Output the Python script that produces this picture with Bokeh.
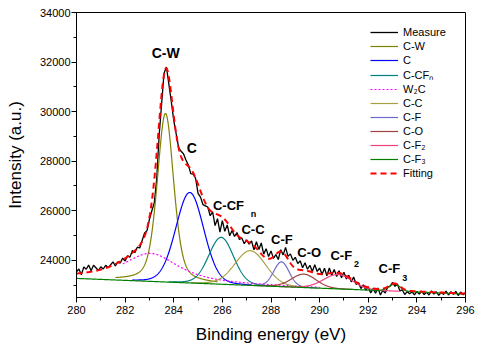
import numpy as np
from bokeh.plotting import figure
from bokeh.models import Range1d, SingleIntervalTicker, Legend, LegendItem
from bokeh.core.properties import value
from bokeh.embed import file_html
from bokeh.resources import INLINE

# ---------------- data ----------------
energy_start = 280.0
energy_step = 0.1
measured = [
    23540, 23650, 23420, 23730, 23640, 23810, 23580, 23800, 23700, 23590,
    23740, 23650, 23800, 23700, 23820, 23940, 23770, 23940, 23890, 24090,
    23970, 24180, 24130, 24400, 24310, 24530, 24500, 24800, 25100, 25200,
    25650, 26000, 26320, 27300, 29050, 30300, 31550, 31800, 31100, 30400,
    29650, 29100, 28550, 28400, 28300, 28050, 27850, 27500, 27480, 27300,
    26700, 26550, 26250, 26200, 26150, 25800, 25950, 25400, 25680, 25140,
    25600, 25170, 25430, 24990, 25200, 24960, 25120, 24840, 24900, 24670,
    24830, 24650, 24780, 24420, 24750, 24440, 24700, 24250, 24470, 24150,
    24380, 24080, 24230, 24030, 24430, 24220, 24520, 24160, 24260, 24000,
    24120, 23870, 23980, 23700, 23900, 23640, 23800, 23550, 23820, 23550,
    23690, 23430, 23680, 23380, 23690, 23400, 23630, 23350, 23580, 23300,
    23520, 23250, 23400, 23130, 23330, 23030, 23100, 22860, 23010, 22790,
    22930, 22680, 22860, 22670, 22880, 22600, 22790, 22680, 22920, 22950,
    23110, 22950, 23040, 22770, 22810, 22620, 22740, 22650, 22725, 22610,
    22740, 22640, 22750, 22620, 22715, 22600, 22770, 22640, 22730, 22590,
    22710, 22625, 22760, 22600, 22738, 22630, 22744, 22580, 22720, 22610,
    22700,
]

baseline_energy = [280.0, 296.0]
baseline_intensity = [23270, 22640]

peak_names = ["C-W", "C", "C-CFₙ", "W₂C", "C-C", "C-F", "C-O", "C-F₂", "C-F₃"]
peak_center = [283.66, 284.66, 285.95, 283.05, 287.15, 288.43, 289.35, 290.75, 293.08]
peak_height = [6800, 3650, 1890, 1130, 1400, 1000, 540, 580, 280]
peak_fwhm = [0.8, 1.35, 1.2, 2.7, 1.5, 0.75, 1.2, 1.4, 0.55]
peak_lorentz = [0.4, 0.1, 0.1, 0.8, 0.1, 0.1, 0.1, 0.1, 0.1]
peak_from = [281.6, 282.3, 283.8, 281.9, 284.7, 287.0, 287.3, 288.2, 280.0]
peak_to = [285.8, 287.2, 288.1, 290.0, 289.6, 289.9, 291.4, 293.3, 296.0]

peak_colors = ["#808000", "#0000FF", "#008080", "#FF00FF", "#A8A040",
               "#6A6ACD", "#A04040", "#F04080", "#008000"]
peak_dash = ["solid", "solid", "solid", "2 2", "solid", "solid", "solid", "solid", "solid"]

label_text = ["C-W", "C", "C-CF", "C-C", "C-F", "C-O", "C-F", "C-F"]
label_x = [283.67, 284.74, 286.25, 287.26, 288.45, 289.57, 290.89, 292.87]
label_y = [32384, 28549, 26204, 25235, 24831, 24306, 24184, 23659]
label_size = ["14px", "14px", "13px", "13px", "13px", "13px", "13px", "13px"]
sub_text = ["n", "2", "3"]
sub_x = [287.28, 291.52, 293.50]
sub_y = [25860, 23861, 23296]

# ---------------- model ----------------
def baseline(e):
    return np.interp(e, baseline_energy, baseline_intensity)

def pvoigt(e, c, h, w, eta):
    t = 4.0 * (e - c) ** 2 / w ** 2
    return h * (eta / (1.0 + t) + (1.0 - eta) * np.exp(-np.log(2.0) * t))

energy = np.round(energy_start + energy_step * np.arange(len(measured)), 3)
fine = np.linspace(280.0, 296.0, 1601)

FONT = "Liberation Sans"
p = figure(width=481, height=351, output_backend="svg", toolbar_location=None,
           x_range=Range1d(280, 296), y_range=Range1d(22500, 34000),
           min_border_left=76, min_border_right=16, min_border_top=12,
           min_border_bottom=54)
p.xgrid.visible = False
p.ygrid.visible = False
p.outline_line_color = "black"
p.outline_line_alpha = 1
p.outline_line_width = 1
p.background_fill_color = "white"

p.xaxis.ticker = SingleIntervalTicker(interval=2, num_minor_ticks=2)
p.yaxis.ticker = SingleIntervalTicker(interval=2000, num_minor_ticks=2)
for ax in (p.xaxis[0], p.yaxis[0]):
    ax.major_tick_in = 0
    ax.major_tick_out = 5
    ax.minor_tick_in = 0
    ax.minor_tick_out = 3
    ax.axis_line_color = "black"
    ax.major_tick_line_color = "black"
    ax.minor_tick_line_color = "black"
    ax.major_label_text_font = FONT
    ax.major_label_text_font_size = "11px"
    ax.major_label_text_color = "black"
    ax.axis_label_text_font = FONT
    ax.axis_label_text_font_style = "normal"
    ax.axis_label_text_font_size = "17px"
    ax.axis_label_text_color = "black"
p.xaxis.axis_label = "Binding energy (eV)"
p.yaxis.axis_label = "Intensity (a.u.)"
p.xaxis.major_label_standoff = 3
p.yaxis.major_label_standoff = 1
p.xaxis.axis_label_standoff = 8
p.yaxis.axis_label_standoff = 12

items = []
r = p.line(energy, measured, line_color="black", line_width=1.3)
items.append(LegendItem(label="Measure", renderers=[r]))

fit = baseline(fine).copy()
for i, name in enumerate(peak_names):
    comp = pvoigt(fine, peak_center[i], peak_height[i], peak_fwhm[i], peak_lorentz[i])
    fit += comp
    m = (fine >= peak_from[i]) & (fine <= peak_to[i])
    r = p.line(fine[m], (baseline(fine) + comp)[m], line_color=peak_colors[i],
               line_width=1.2, line_dash=peak_dash[i])
    items.append(LegendItem(label=name, renderers=[r]))

r = p.line(fine, fit, line_color="#FF0000", line_width=2, line_dash="6 4")
items.append(LegendItem(label="Fitting", renderers=[r]))

for t, x, y, s in zip(label_text, label_x, label_y, label_size):
    p.text([x], [y], text=[t], text_font=value(FONT), text_font_style="bold",
           text_font_size=s, text_align="center", text_baseline="middle",
           text_color="black")
p.text(sub_x, sub_y, text=sub_text, text_font=value(FONT), text_font_style="bold",
       text_font_size="9px", text_align="center", text_baseline="middle",
       text_color="black")

legend = Legend(items=items, location=(294, 117))
legend.border_line_color = None
legend.background_fill_alpha = 0
legend.padding = 0
legend.margin = 0
legend.spacing = 0
legend.glyph_width = 28
legend.glyph_height = 14
legend.label_height = 14
legend.label_standoff = 5
legend.label_text_font = FONT
legend.label_text_font_size = "11px"
legend.label_text_color = "black"
p.add_layout(legend)

open("out.html", "w").write(file_html(p, INLINE))
